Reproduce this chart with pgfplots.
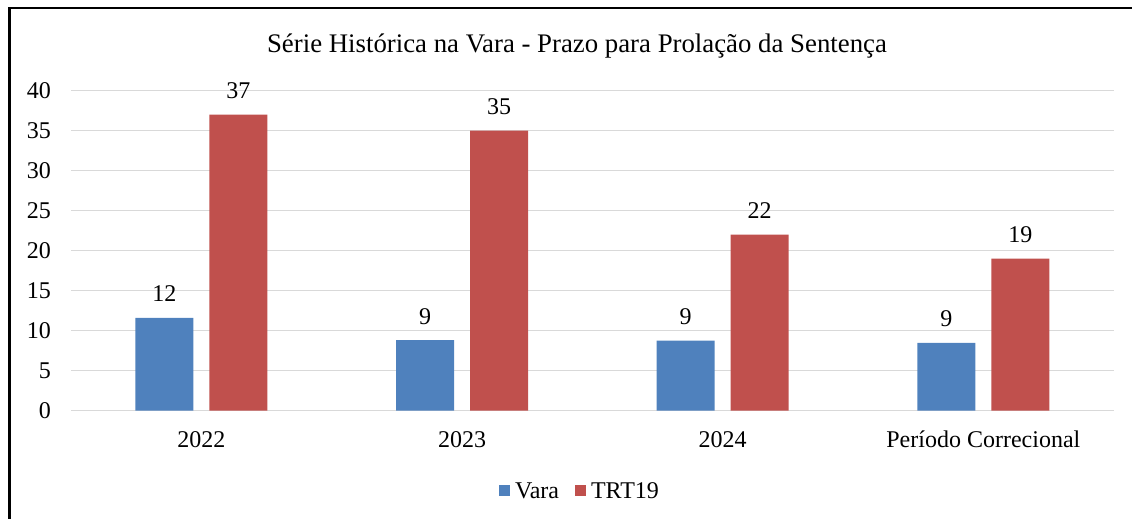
\documentclass[border=0pt]{standalone}
\usepackage{fontspec}
\setmainfont{Liberation Serif}
\usepackage{pgfplots}
\pgfplotsset{compat=1.18}
\definecolor{varablue}{HTML}{4F81BD}
\definecolor{trtred}{HTML}{C0504D}
\definecolor{gridgray}{HTML}{D9D9D9}
\begin{document}
\begin{tikzpicture}
\useasboundingbox (0,0) rectangle (1132bp,519bp);
\draw[line width=2.5bp] (9.3bp,-20bp) -- (9.3bp,511bp) -- (1150bp,511bp);
\node[font=\rmfamily\fontsize{26.8bp}{30bp}\selectfont, anchor=base, inner sep=0pt] at (577bp, 466bp) {Série Histórica na Vara - Prazo para Prolação da Sentença};
\begin{axis}[
  at={(71bp,108.5bp)}, anchor=south west,
  scale only axis, width=1042.7bp, height=319.8bp,
  ymin=0, ymax=40, ytick={0,5,...,40},
  xmin=-0.5, xmax=3.5, xtick={0,1,2,3},
  xticklabels={2022,2023,2024,Período Correcional},
  axis line style={draw=none},
  major tick length=0pt,
  ymajorgrids, grid style={gridgray, line width=1.5bp},
  /pgf/number format/assume math mode=true,
  tick label style={font=\rmfamily\fontsize{24bp}{28bp}\selectfont},
  xticklabel style={anchor=base, yshift=-36.5bp, inner sep=0pt},
  yticklabel style={anchor=east, inner sep=0pt, xshift=-20bp},
  ybar, bar width=58bp,
  point meta=explicit symbolic,
  nodes near coords,
  nodes near coords style={font=\rmfamily\fontsize{24bp}{28bp}\selectfont, anchor=base, inner sep=0pt, yshift=16bp, text=black},
  legend style={at={(axis description cs:0.4882,-0.2516)}, anchor=center, draw=none,
    legend columns=-1, font=\rmfamily\fontsize{24bp}{27bp}\selectfont,
    /tikz/every odd column/.append style={column sep=3bp},
    /tikz/every even column/.append style={column sep=14bp}},
  legend image code/.code={\fill[#1] (0bp,-5.5bp) rectangle (11bp,5.5bp);},
]
\addplot[fill=varablue, draw=none, bar shift=-37bp] coordinates {(0,11.6)[12] (1,8.8)[9] (2,8.75)[9] (3,8.45)[9]};
\addplot[fill=trtred, draw=none, bar shift=37bp] coordinates {(0,37)[37] (1,35)[35] (2,22)[22] (3,19)[19]};
\legend{Vara,TRT19}
\end{axis}
\end{tikzpicture}
\end{document}
